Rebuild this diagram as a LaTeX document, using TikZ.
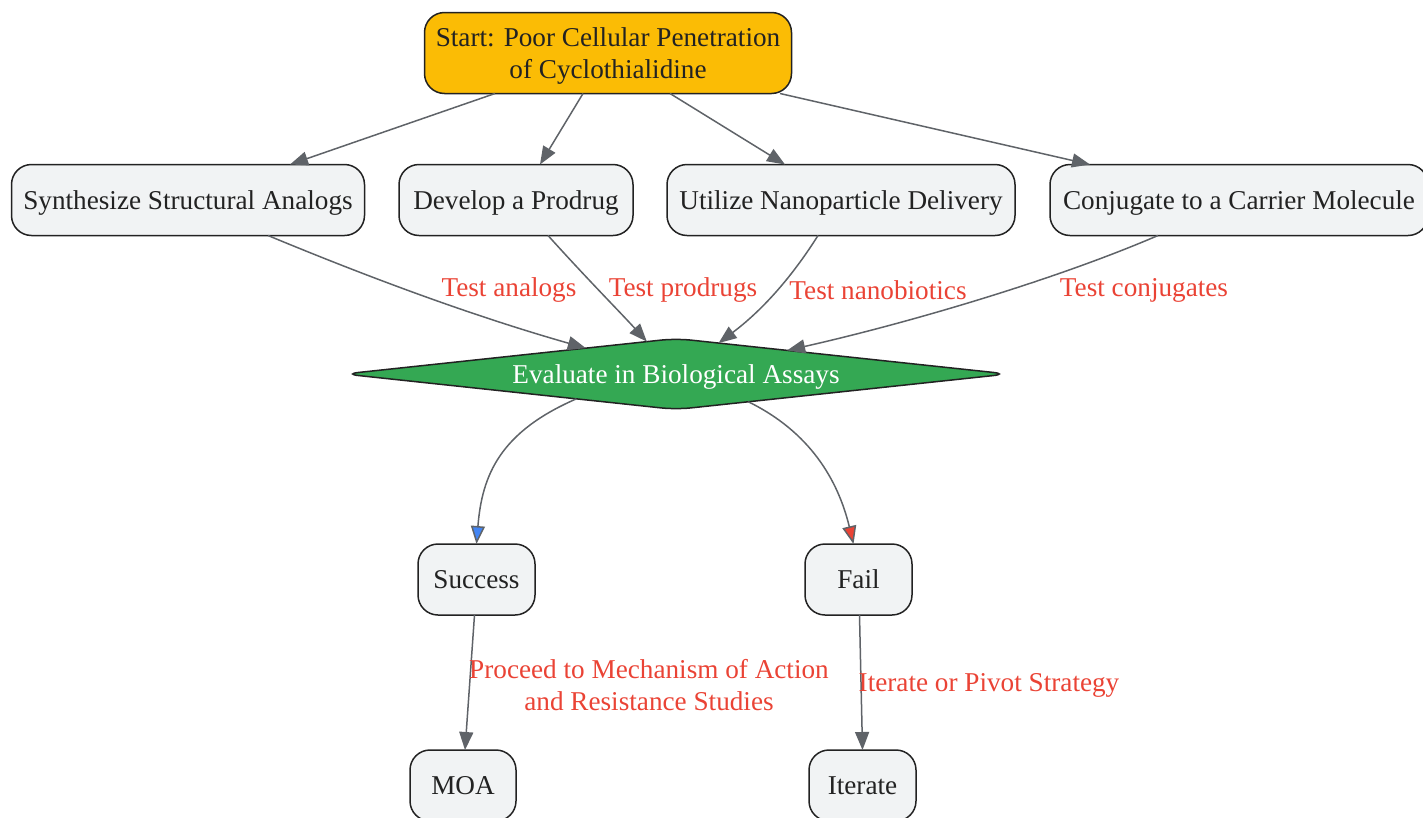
\documentclass[tikz,border=0pt]{standalone}
\usepackage{fontspec}
\setmainfont{Liberation Serif}
\usetikzlibrary{arrows.meta,shapes.geometric,calc}
\definecolor{nodefill}{HTML}{F1F3F4}
\definecolor{edgegray}{HTML}{5F6368}
\definecolor{lblred}{HTML}{EA4335}
\definecolor{ggreen}{HTML}{34A853}
\definecolor{gyellow}{HTML}{FBBC05}
\definecolor{gblue}{HTML}{4285F4}
\definecolor{txt}{HTML}{222222}
\begin{document}
\begin{tikzpicture}[x=1pt,y=-1pt,
 every node/.style={font=\fontsize{27.2}{32}\selectfont, text=txt},
 box/.style={draw=txt, line width=1.5pt, fill=nodefill, rounded corners=20pt, minimum height=71pt, inner sep=0pt, outer sep=0pt, align=center, text depth=0pt},
 startbox/.style={box, fill=gyellow, minimum height=81pt},
 decision/.style={diamond, draw=txt, line width=1.5pt, fill=ggreen, text=white, minimum width=664pt, minimum height=71pt, aspect=9.5, inner sep=0pt, outer sep=0pt, rounded corners=15pt, text depth=0pt},
 conn/.style={draw=edgegray, line width=1.5pt, -{Triangle[length=18pt,width=14pt]}},
 lbl/.style={text=lblred, align=center, inner sep=0pt},
]
\useasboundingbox (0,0) rectangle (1423,817);

\node[startbox, minimum width=367pt] (start) at (608,53) {Start: Poor Cellular Penetration\\of Cyclothialidine};
\node[box, minimum width=353pt] (synth) at (188,200) {Synthesize Structural Analogs};
\node[box, minimum width=234pt] (prodrug) at (516,200) {Develop a Prodrug};
\node[box, minimum width=348pt] (nano) at (841,200) {Utilize Nanoparticle Delivery};
\node[box, minimum width=378pt] (conj) at (1239,200) {Conjugate to a Carrier Molecule};
\node[decision] (eval) at (676,374) {Evaluate in Biological Assays};
\node[box, minimum width=117pt] (success) at (476.5,579.5) {Success};
\node[box, minimum width=107pt] (fail) at (858.5,579.5) {Fail};
\node[box, minimum width=106pt] (moa) at (463,785.5) {MOA};
\node[box, minimum width=107pt] (iter) at (862.5,785.5) {Iterate};

\draw[conn] ([xshift=-113pt]start.south) -- ([xshift=102pt]synth.north);
\draw[conn] ([xshift=-25pt]start.south) -- ([xshift=24pt]prodrug.north);
\draw[conn] ([xshift=62pt]start.south) -- ([xshift=-56pt]nano.north);
\draw[conn] ([xshift=172pt]start.south) -- ([xshift=-149pt]conj.north);

\draw[conn] ([xshift=80pt]synth.south) .. controls (380,282) and (480,318) .. (eval.164);
\draw[conn] ([xshift=32pt]prodrug.south) .. controls (590,282) and (620,312) .. (eval.132);
\draw[conn] ([xshift=-23pt]nano.south) .. controls (790,280) and (760,312) .. (eval.36);
\draw[conn] ([xshift=-81pt]conj.south) .. controls (1050,282) and (900,325) .. (eval.12);

\draw[conn, -{Triangle[length=18pt,width=14pt,fill=gblue]}] (eval.194) .. controls (500,432) and (482,475) .. ([xshift=0pt]success.north);
\draw[conn, -{Triangle[length=18pt,width=14pt,fill=lblred]}] (eval.339) .. controls (810,432) and (838,480) .. ([xshift=-5pt]fail.north);

\draw[conn] ([xshift=-2pt]success.south) -- ([xshift=2pt]moa.north);
\draw[conn] ([xshift=1pt]fail.south) -- (iter.north);

\node[lbl] (l1) at (509,290) {Test analogs};
\node[lbl] (l2) at (683,290) {Test prodrugs};
\node[lbl] (l3) at (878,290) {Test nanobiotics};
\node[lbl] (l4) at (1144,290) {Test conjugates};
\node[lbl] (l5) at (649,685) {Proceed to Mechanism of Action\\and Resistance Studies};
\node[lbl] (l6) at (989,685) {Iterate or Pivot Strategy};
\end{tikzpicture}
\end{document}
